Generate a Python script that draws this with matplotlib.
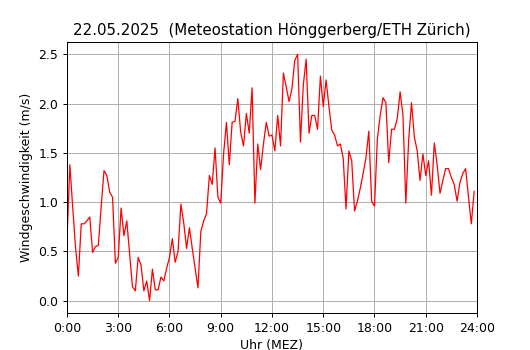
from matplotlib import pyplot as plt
import numpy as np

title = "22.05.2025  (Meteostation Hönggerberg/ETH Zürich)"
# Windgeschwindigkeit, 10-Minuten-Werte ab 0:00
wind = [0.61, 1.38, 0.95, 0.54, 0.25, 0.78, 0.78, 0.81, 0.85, 0.49,
        0.55, 0.56, 0.95, 1.32, 1.27, 1.10, 1.05, 0.38, 0.44, 0.94,
        0.66, 0.81, 0.47, 0.14, 0.10, 0.44, 0.36, 0.10, 0.20, 0.00,
        0.32, 0.11, 0.11, 0.24, 0.20, 0.33, 0.44, 0.63, 0.39, 0.50,
        0.98, 0.79, 0.53, 0.74, 0.53, 0.33, 0.13, 0.70, 0.81, 0.88,
        1.27, 1.18, 1.55, 1.05, 0.99, 1.49, 1.81, 1.38, 1.81, 1.82,
        2.05, 1.71, 1.57, 1.90, 1.70, 2.16, 0.99, 1.59, 1.33, 1.59,
        1.81, 1.67, 1.68, 1.52, 1.88, 1.57, 2.31, 2.17, 2.02, 2.15,
        2.44, 2.50, 1.61, 2.19, 2.45, 1.70, 1.88, 1.88, 1.74, 2.28,
        1.97, 2.24, 1.97, 1.73, 1.68, 1.57, 1.59, 1.45, 0.93, 1.52,
        1.42, 0.91, 1.01, 1.14, 1.29, 1.45, 1.72, 1.01, 0.96, 1.64,
        1.88, 2.06, 2.01, 1.40, 1.74, 1.74, 1.85, 2.12, 1.88, 0.99,
        1.63, 2.01, 1.66, 1.52, 1.22, 1.49, 1.27, 1.42, 1.07, 1.60,
        1.38, 1.09, 1.22, 1.34, 1.34, 1.25, 1.18, 1.01, 1.20, 1.29,
        1.34, 1.06, 0.78, 1.11]
stunden = np.arange(len(wind)) / 6
xticks = [0, 3, 6, 9, 12, 15, 18, 21, 24]
xlabels = ["0:00", "3:00", "6:00", "9:00", "12:00", "15:00", "18:00", "21:00", "24:00"]

fig = plt.figure(figsize=(530/90, 350/90), dpi=90)
ax = fig.add_axes([0.1264, 0.1057, 0.7736, 0.7743])
ax.plot(stunden, wind, color="red", linewidth=1)
ax.set_xlim(0, 24)
ax.set_xticks(xticks)
ax.set_xticklabels(xlabels)
ax.set_xlabel("Uhr (MEZ)", labelpad=3)
ax.set_ylabel("Windgeschwindigkeit (m/s)")
ax.set_title(title)
ax.grid()
fig.savefig("out.png", dpi=90)
